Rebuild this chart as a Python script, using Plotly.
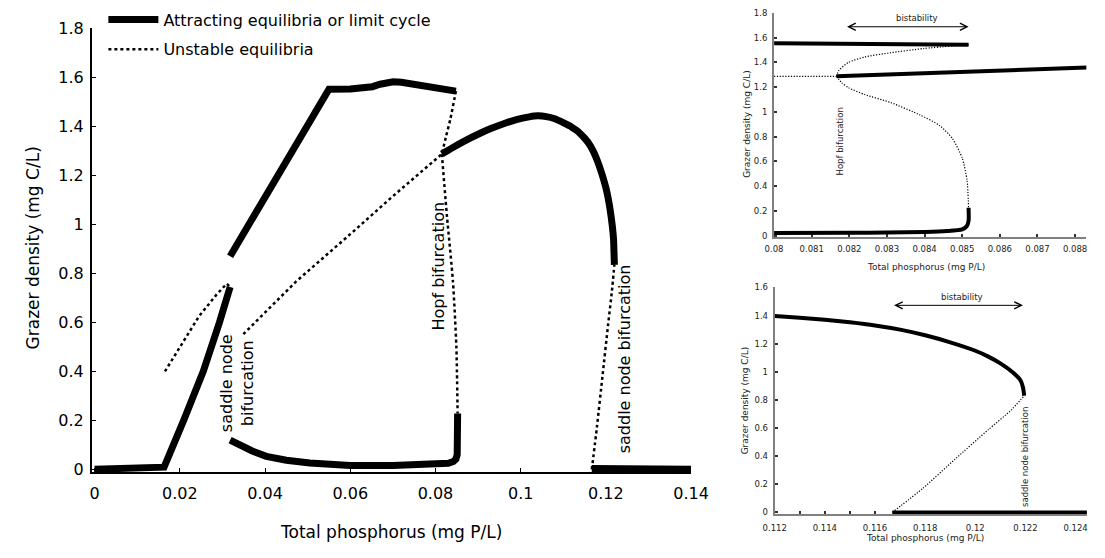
import plotly.graph_objects as go

# ---------------- main panel data ----------------
low_stable_x = [0, 0.0163, 0.0209, 0.0255, 0.0293, 0.0310, 0.0318]
low_stable_y = [0, 0.009, 0.20, 0.40, 0.60, 0.685, 0.744]

upper_cycle_x = [0.0318, 0.0550, 0.0600, 0.0630, 0.0652, 0.0670, 0.0690, 0.0701, 0.0720,
                 0.0742, 0.0800, 0.0848]
upper_cycle_y = [0.870, 1.552, 1.553, 1.556, 1.562, 1.572, 1.580, 1.582, 1.580,
                 1.575, 1.560, 1.544]

lower_cycle_x = [0.0318, 0.0340, 0.0370, 0.0403, 0.0450, 0.0505, 0.0550, 0.0600, 0.0700,
                 0.0803, 0.0830, 0.0842, 0.0848, 0.0851, 0.0852, 0.0852]
lower_cycle_y = [0.119, 0.098, 0.075, 0.053, 0.037, 0.026, 0.020, 0.016, 0.016,
                 0.020, 0.025, 0.032, 0.042, 0.060, 0.100, 0.228]

arc_stable_x = [0.0815, 0.0840, 0.0870, 0.0900, 0.0930, 0.0960, 0.0990, 0.1020, 0.1040,
                0.1060, 0.1080, 0.1100, 0.1120, 0.1130, 0.1140, 0.1150, 0.1160, 0.1170,
                0.1180, 0.1190, 0.1200, 0.1205, 0.1210, 0.1215, 0.1218, 0.1219, 0.1220]
arc_stable_y = [1.287, 1.313, 1.342, 1.368, 1.391, 1.411, 1.428, 1.439, 1.443,
                1.440, 1.431, 1.415, 1.397, 1.385, 1.370, 1.352, 1.330, 1.300,
                1.260, 1.210, 1.150, 1.110, 1.060, 0.995, 0.940, 0.890, 0.835]

zero_stable_x = [0.1167, 0.14]
zero_stable_y = [0.004, 0.0]

left_unstable_x = [0.0165, 0.0202, 0.0245, 0.0285, 0.0310, 0.0318]
left_unstable_y = [0.40, 0.506, 0.625, 0.711, 0.758, 0.744]

diag_unstable_x = [0.0349, 0.0473, 0.060, 0.070, 0.0815]
diag_unstable_y = [0.552, 0.767, 0.960, 1.115, 1.287]

hopf_upper_x = [0.0848, 0.0835, 0.0825, 0.0815]
hopf_upper_y = [1.544, 1.430, 1.360, 1.287]

hopf_lower_x = [0.0815, 0.0827, 0.0841, 0.0849, 0.0852]
hopf_lower_y = [1.287, 1.033, 0.768, 0.503, 0.228]

sn2_unstable_x = [0.1167, 0.1179, 0.1192, 0.1205, 0.1214, 0.1220]
sn2_unstable_y = [0.0, 0.173, 0.380, 0.587, 0.725, 0.835]

main_xticks = [0, 0.02, 0.04, 0.06, 0.08, 0.10, 0.12, 0.14]
main_yticks = [0, 0.2, 0.4, 0.6, 0.8, 1.0, 1.2, 1.4, 1.6, 1.8]

# ---------------- inset 1 (Hopf) data ----------------
i1_top_x = [0.080, 0.08517]
i1_top_y = [1.555, 1.543]
i1_mid_x = [0.08166, 0.0884]
i1_mid_y = [1.287, 1.360]
i1_flat_x = [0.080, 0.08166]
i1_flat_y = [1.287, 1.287]
i1_up_unst_x = [0.08166, 0.08172, 0.08198, 0.08241, 0.0831, 0.08397, 0.08517]
i1_up_unst_y = [1.287, 1.334, 1.400, 1.444, 1.478, 1.512, 1.543]
i1_lo_unst_x = [0.08166, 0.08180, 0.08198, 0.08241, 0.0831, 0.08388, 0.0844, 0.08474, 0.0850,
                0.08513, 0.08517]
i1_lo_unst_y = [1.287, 1.235, 1.195, 1.140, 1.075, 0.975, 0.890, 0.785, 0.628, 0.445, 0.222]
i1_bottom_x = [0.080, 0.082, 0.083, 0.084, 0.0846, 0.0850, 0.08512, 0.08517, 0.08517]
i1_bottom_y = [0.020, 0.022, 0.025, 0.030, 0.037, 0.050, 0.075, 0.120, 0.225]
i1_xticks = [0.080, 0.081, 0.082, 0.083, 0.084, 0.085, 0.086, 0.087, 0.088]
i1_yticks = [0, 0.2, 0.4, 0.6, 0.8, 1.0, 1.2, 1.4, 1.6, 1.8]

# ---------------- inset 2 (saddle node) data ----------------
i2_arc_x = [0.1120, 0.1130, 0.1140, 0.1150, 0.1160, 0.1170, 0.1180, 0.1190, 0.1200, 0.1205,
            0.1210, 0.1215, 0.1218, 0.1219, 0.12195]
i2_arc_y = [1.397, 1.385, 1.370, 1.352, 1.330, 1.300, 1.260, 1.210, 1.150, 1.110,
            1.060, 0.995, 0.940, 0.890, 0.829]
i2_unst_x = [0.11669, 0.11792, 0.1192, 0.12051, 0.12141, 0.12195]
i2_unst_y = [0.0, 0.173, 0.380, 0.587, 0.725, 0.829]
i2_zero_x = [0.11669, 0.1245]
i2_zero_y = [0.0, 0.0]
i2_xticks = [0.112, 0.113, 0.114, 0.115, 0.116, 0.117, 0.118, 0.119, 0.120, 0.121, 0.122, 0.123, 0.124]
i2_xtext = ["0.112", "", "0.114", "", "0.116", "", "0.118", "", "0.12", "", "0.122", "", "0.124"]
i2_yticks = [0, 0.2, 0.4, 0.6, 0.8, 1.0, 1.2, 1.4, 1.6]

FONT = "DejaVu Sans"
fig = go.Figure()


def add(x, y, xa, ya, width, dash="solid", shape="linear", name=None, show=False, group=None):
    line = dict(color="black", width=width, dash=dash, shape=shape)
    if shape == "spline":
        line["smoothing"] = 0.6
    fig.add_trace(go.Scatter(x=x, y=y, mode="lines", xaxis=xa, yaxis=ya, line=line,
                             name=name, showlegend=show, legendgroup=group, hoverinfo="skip"))


THICK, DOT = 7, 2.5
FINE_DOT = "1.2px,1.6px"
add(low_stable_x, low_stable_y, "x", "y", THICK,
    name="Attracting equilibria or limit cycle", show=True, group="a")
add(left_unstable_x, left_unstable_y, "x", "y", DOT, dash="dot",
    name="Unstable equilibria", show=True, group="b")
add(upper_cycle_x, upper_cycle_y, "x", "y", THICK)
add(lower_cycle_x, lower_cycle_y, "x", "y", THICK)
add(arc_stable_x, arc_stable_y, "x", "y", THICK, shape="spline")
add(zero_stable_x, zero_stable_y, "x", "y", THICK)
add(diag_unstable_x, diag_unstable_y, "x", "y", DOT, dash="dot")
add(hopf_upper_x, hopf_upper_y, "x", "y", DOT, dash="dot", shape="spline")
add(hopf_lower_x, hopf_lower_y, "x", "y", DOT, dash="dot", shape="spline")
add(sn2_unstable_x, sn2_unstable_y, "x", "y", DOT, dash="dot", shape="spline")

# inset 1
add(i1_top_x, i1_top_y, "x2", "y2", 4)
add(i1_mid_x, i1_mid_y, "x2", "y2", 4)
add(i1_bottom_x, i1_bottom_y, "x2", "y2", 4, shape="spline")
add(i1_flat_x, i1_flat_y, "x2", "y2", 1.2, dash=FINE_DOT)
add(i1_up_unst_x, i1_up_unst_y, "x2", "y2", 1.2, dash=FINE_DOT, shape="spline")
add(i1_lo_unst_x, i1_lo_unst_y, "x2", "y2", 1.2, dash=FINE_DOT, shape="spline")

# inset 2
add(i2_arc_x, i2_arc_y, "x3", "y3", 4, shape="spline")
add(i2_zero_x, i2_zero_y, "x3", "y3", 4)
add(i2_unst_x, i2_unst_y, "x3", "y3", 1.2, dash=FINE_DOT, shape="spline")

main_axis = dict(showline=True, linecolor="black", linewidth=1.5, ticks="inside", ticklen=5,
                 tickcolor="black", tickwidth=1.2, showgrid=False, zeroline=False,
                 layer="below traces", tickfont=dict(size=16, family=FONT, color="black"))
inset_axis = dict(showline=True, linecolor="#808080", linewidth=2, ticks="inside", ticklen=3,
                  tickcolor="#333333", tickwidth=1.5, showgrid=False, zeroline=False,
                  layer="below traces", tickfont=dict(size=8.5, family=FONT, color="#222222"))

fig.update_layout(
    width=1105, height=558, margin=dict(l=0, r=0, t=0, b=0),
    plot_bgcolor="white", paper_bgcolor="white",
    font=dict(family=FONT, color="black"),
    legend=dict(x=0.085, y=1.012, xanchor="left", yanchor="top", font=dict(size=16, family=FONT),
                bgcolor="rgba(0,0,0,0)", tracegroupgap=6, itemwidth=50),
    xaxis=dict(main_axis, domain=[0.0741, 0.6317], range=[-0.0007, 0.14], tickvals=main_xticks,
               anchor="y", ticklabelstandoff=6),
    yaxis=dict(main_axis, domain=[0.1452, 0.9642], range=[-0.012, 1.8], tickvals=main_yticks,
               anchor="x", ticklabelstandoff=3),
    xaxis2=dict(inset_axis, domain=[0.7089, 0.9994], range=[0.08, 0.0883], tickvals=i1_xticks,
                anchor="y2", ticklabelstandoff=3),
    yaxis2=dict(inset_axis, domain=[0.5792, 0.9928], range=[-0.012, 1.8], tickvals=i1_yticks,
                anchor="x2", ticklabelstandoff=3),
    xaxis3=dict(inset_axis, domain=[0.7095, 0.9999], range=[0.112, 0.12445], tickvals=i2_xticks,
                ticktext=i2_xtext, anchor="y3", ticklabelstandoff=5),
    yaxis3=dict(inset_axis, domain=[0.0681, 0.4862], range=[-0.012, 1.6], tickvals=i2_yticks,
                anchor="x3", ticklabelstandoff=3),
)


def label(text, x, y, xref="paper", yref="paper", size=16, angle=0, color="black"):
    return dict(text=text, xref=xref, yref=yref, x=x, y=y, xanchor="center", yanchor="middle",
                showarrow=False, textangle=angle, align="center", font=dict(size=size, color=color))


def double_arrow(xref, yref, x0, x1, y):
    return dict(text="", xref=xref, yref=yref, x=x1, y=y, axref=xref, ayref=yref, ax=x0, ay=y,
                showarrow=True, arrowside="end+start", arrowhead=5, startarrowhead=5,
                arrowsize=1.4, startarrowsize=1.4, arrowwidth=1, arrowcolor="black")


GREY_TXT = "#222222"
ann = [
    label("Total phosphorus (mg P/L)", 0.353, 0.0358, size=17),
    label("Grazer density (mg C/L)", 0.0199, 0.559, size=17, angle=-90),
    label("saddle node<br>bifurcation", 0.0333, 0.35, "x", "y", 16, -90),
    label("Hopf bifurcation", 0.0807, 0.83, "x", "y", 16, -90),
    label("saddle node bifurcation", 0.1243, 0.45, "x", "y", 16, -90),
    # inset 1
    label("Total phosphorus (mg P/L)", 0.8498, 0.5233, size=9, color=GREY_TXT),
    label("Grazer density (mg C/L)", 0.6830, 0.7885, size=9, angle=-90, color=GREY_TXT),
    label("bistability", 0.0838, 1.76, "x2", "y2", 8.5, color=GREY_TXT),
    double_arrow("x2", "y2", 0.0819, 0.08517, 1.688),
    label("Hopf bifurcation", 0.08175, 0.76, "x2", "y2", 8.5, -90, GREY_TXT),
    # inset 2
    label("Total phosphorus (mg P/L)", 0.849, 0.0233, size=9, color=GREY_TXT),
    label("Grazer density (mg C/L)", 0.6818, 0.2778, size=9, angle=-90, color=GREY_TXT),
    label("bistability", 0.11948, 1.53, "x3", "y3", 8.5, color=GREY_TXT),
    double_arrow("x3", "y3", 0.1167, 0.1219, 1.473),
    label("saddle node bifurcation", 0.1220, 0.398, "x3", "y3", 8.5, -90, GREY_TXT),
]
fig.update_layout(annotations=ann)

fig.write_html("out.html")
